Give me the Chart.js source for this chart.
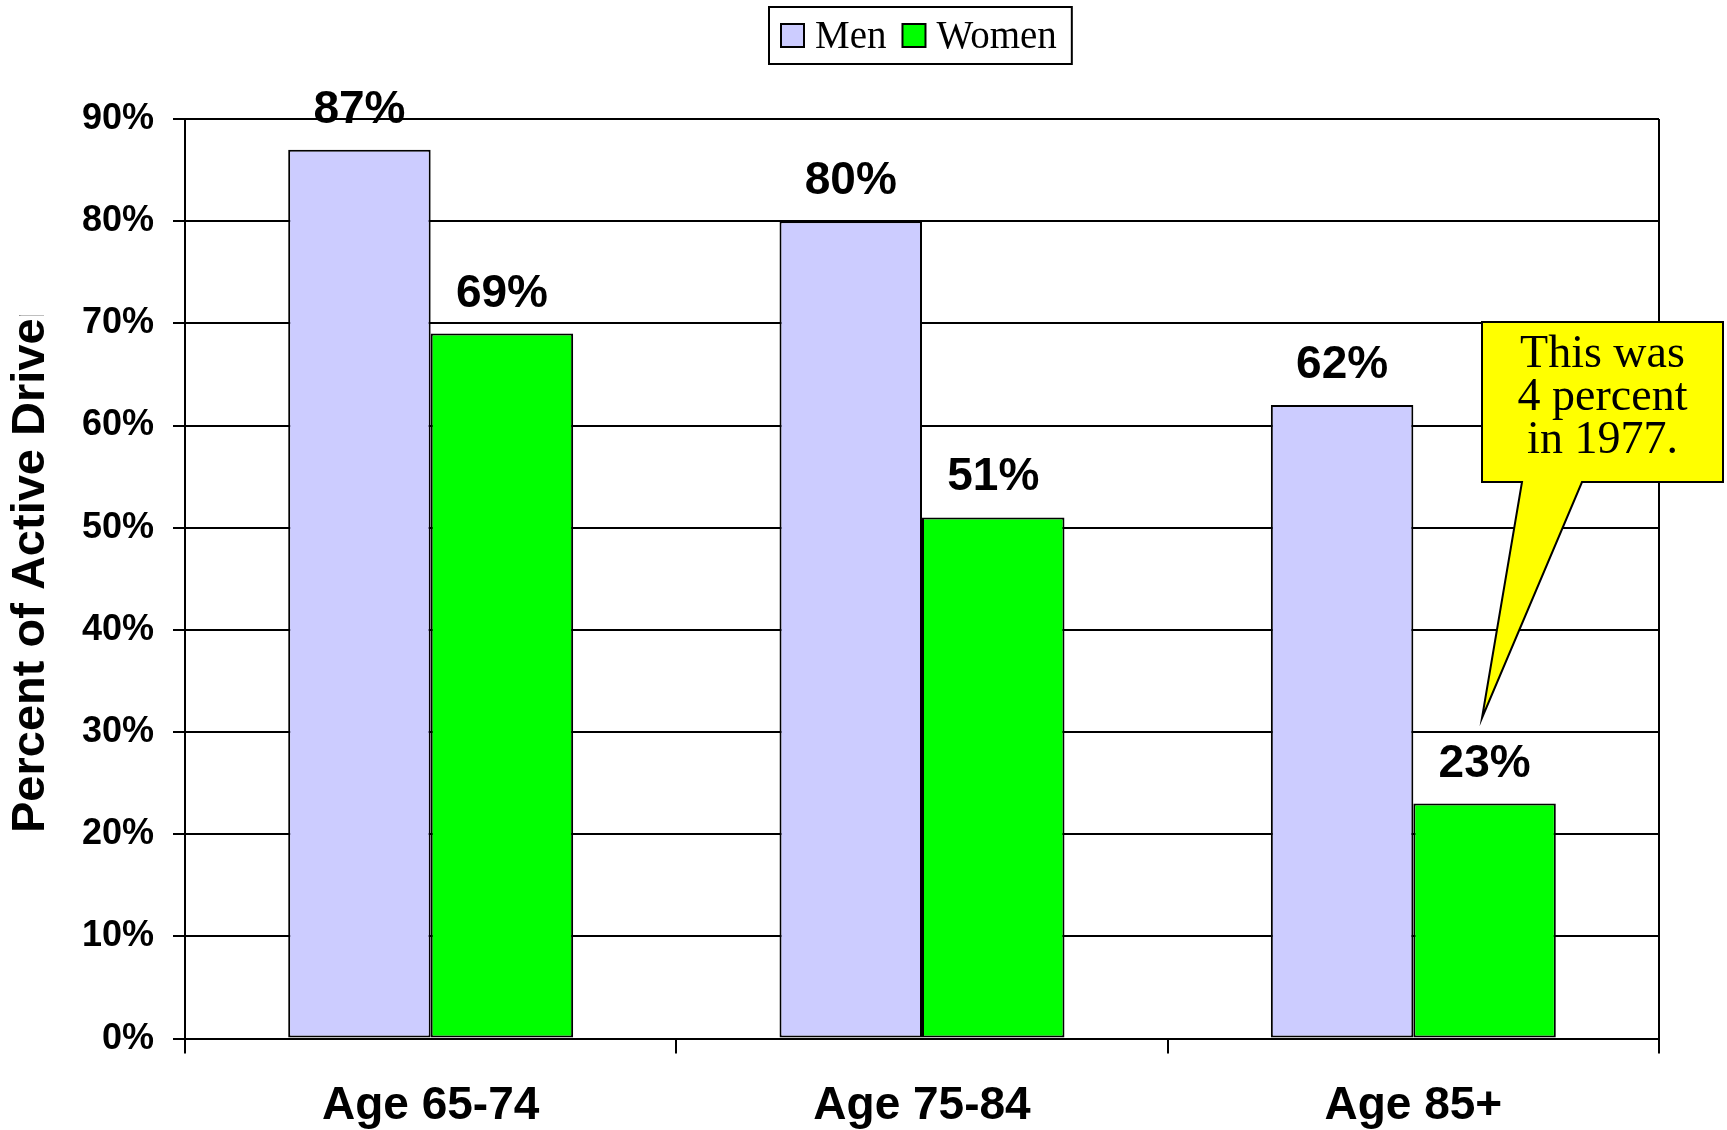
<!DOCTYPE html>
<html>
<head>
<meta charset="utf-8">
<title>Percent of Active Drivers by Age</title>
<script src="https://cdn.jsdelivr.net/npm/chart.js@4/dist/chart.umd.min.js"></script>
<style>
  html, body { margin: 0; padding: 0; background: #ffffff; }
  #wrap { width: 1727px; height: 1130px; }
</style>
</head>
<body>
<div id="wrap"><canvas id="chart" width="1727" height="1130"></canvas></div>
<script>
// Age groups and share of active drivers (percent)
const categories = ['Age 65-74', 'Age 75-84', 'Age 85+'];
const menValues = [87, 80, 62];
const womenValues = [69, 51, 23];
const seriesNames = ['Men', 'Women'];
const yTicks = [0, 10, 20, 30, 40, 50, 60, 70, 80, 90];
const axisTitle = 'Percent of Active Drivers';
const calloutLines = ['This was', '4 percent', 'in 1977.'];

const SANS = '"Liberation Sans", Arial, Helvetica, sans-serif';
const SERIF = '"Liberation Serif", "Times New Roman", Times, serif';

Chart.defaults.font.family = SANS;
Chart.defaults.color = '#000000';

// Frame line on the right side of the plot
const framePlugin = {
  id: 'frame',
  beforeDatasetsDraw(chart) {
    const { ctx, chartArea: a } = chart;
    ctx.save();
    ctx.strokeStyle = '#000';
    ctx.lineWidth = 2;
    ctx.beginPath();
    ctx.moveTo(a.right, a.top);
    ctx.lineTo(a.right, a.bottom);
    ctx.stroke();
    ctx.restore();
  }
};

// Value labels above each bar
const valueLabels = {
  id: 'valueLabels',
  afterDatasetsDraw(chart) {
    const { ctx } = chart;
    ctx.save();
    ctx.font = 'bold 46px ' + SANS;
    ctx.fillStyle = '#000';
    ctx.textAlign = 'center';
    ctx.textBaseline = 'alphabetic';
    chart.data.datasets.forEach((ds, di) => {
      chart.getDatasetMeta(di).data.forEach((bar, i) => {
        ctx.fillText(ds.data[i] + '%', bar.x, bar.y - 27);
      });
    });
    ctx.restore();
  }
};

// Boxed legend at the top, serif type
const boxLegend = {
  id: 'boxLegend',
  afterDraw(chart) {
    const { ctx } = chart;
    ctx.save();
    ctx.font = '39px ' + SERIF;
    const left = 769, top = 7, height = 57;
    const sw = 23, swTop = 24, gapText = 11, gapItem = 16;
    let x = left + 12;
    const items = chart.data.datasets.map(ds => {
      const item = { x, label: ds.label, color: ds.backgroundColor };
      x += sw + gapText + ctx.measureText(ds.label).width + gapItem;
      return item;
    });
    const right = x - gapItem + 15;
    ctx.fillStyle = '#fff';
    ctx.fillRect(left, top, right - left, height);
    ctx.strokeStyle = '#000';
    ctx.lineWidth = 2;
    ctx.strokeRect(left, top, right - left, height);
    items.forEach(it => {
      ctx.fillStyle = it.color;
      ctx.fillRect(it.x, swTop, sw, sw);
      ctx.lineWidth = 2;
      ctx.strokeRect(it.x, swTop, sw, sw);
      ctx.fillStyle = '#000';
      ctx.textBaseline = 'alphabetic';
      ctx.textAlign = 'left';
      ctx.fillText(it.label, it.x + sw + gapText, 48);
    });
    ctx.restore();
  }
};

// Rotated axis title, cut off at its top end
const sideTitle = {
  id: 'sideTitle',
  afterDraw(chart) {
    const { ctx } = chart;
    ctx.save();
    ctx.beginPath();
    ctx.rect(0, 315, 90, 815);
    ctx.clip();
    ctx.translate(44, 833);
    ctx.rotate(-Math.PI / 2);
    ctx.font = 'bold 47px ' + SANS;
    ctx.fillStyle = '#000';
    ctx.textAlign = 'left';
    ctx.textBaseline = 'alphabetic';
    ctx.fillText(axisTitle, 0, 0);
    ctx.restore();
  }
};

// Yellow speech-bubble note
const callout = {
  id: 'callout',
  afterDraw(chart) {
    const { ctx, chartArea: a } = chart;
    const l = a.right - 177, r = a.right + 64;
    const t = 322, b = 482;
    const tip = { x: l, y: 718 };
    ctx.save();
    ctx.beginPath();
    ctx.moveTo(l, t);
    ctx.lineTo(r, t);
    ctx.lineTo(r, b);
    ctx.lineTo(l + 100, b);
    ctx.lineTo(tip.x, tip.y);
    ctx.lineTo(l + 40, b);
    ctx.lineTo(l, b);
    ctx.closePath();
    ctx.fillStyle = '#FFFF00';
    ctx.fill();
    ctx.strokeStyle = '#000';
    ctx.lineWidth = 2;
    ctx.lineJoin = 'miter';
    ctx.stroke();
    ctx.font = '46px ' + SERIF;
    ctx.fillStyle = '#000';
    ctx.textAlign = 'center';
    ctx.textBaseline = 'alphabetic';
    const cx = (l + r) / 2;
    calloutLines.forEach((line, i) => {
      ctx.fillText(line, cx, 367 + i * 43);
    });
    ctx.restore();
  }
};

new Chart(document.getElementById('chart'), {
  type: 'bar',
  data: {
    labels: categories,
    datasets: [
      {
        label: seriesNames[0],
        data: menValues,
        backgroundColor: '#CCCCFF',
        borderColor: '#000000',
        borderWidth: 2,
        borderSkipped: false,
        categoryPercentage: 0.58,
        barPercentage: 1
      },
      {
        label: seriesNames[1],
        data: womenValues,
        backgroundColor: '#00FF00',
        borderColor: '#000000',
        borderWidth: 2,
        borderSkipped: false,
        categoryPercentage: 0.58,
        barPercentage: 1
      }
    ]
  },
  options: {
    responsive: false,
    devicePixelRatio: 1,
    animation: false,
    layout: { padding: { top: 119, right: 68, bottom: 0, left: 0 } },
    plugins: {
      legend: { display: false },
      title: { display: false },
      tooltip: { enabled: false }
    },
    scales: {
      x: {
        offset: true,
        grid: {
          offset: true,
          drawOnChartArea: false,
          drawTicks: true,
          tickLength: 15,
          color: '#000',
          lineWidth: 2
        },
        border: { display: true, color: '#000', width: 2 },
        ticks: {
          font: { size: 46, weight: 'bold', lineHeight: 1.2 },
          color: '#000',
          padding: 25,
          maxRotation: 0
        },
        afterFit(scale) { scale.height = 91.4; }
      },
      y: {
        min: yTicks[0],
        max: yTicks[yTicks.length - 1],
        afterBuildTicks(scale) { scale.ticks = yTicks.map(v => ({ value: v })); },
        grid: {
          color: '#000',
          lineWidth: 2,
          tickLength: 12,
          drawTicks: true
        },
        border: { display: true, color: '#000', width: 2 },
        ticks: {
          font: { size: 36, weight: 'bold' },
          color: '#000',
          padding: 19,
          callback: v => v + '%'
        },
        afterFit(scale) { scale.width = 185; }
      }
    }
  },
  plugins: [framePlugin, valueLabels, boxLegend, sideTitle, callout]
});
</script>
</body>
</html>
